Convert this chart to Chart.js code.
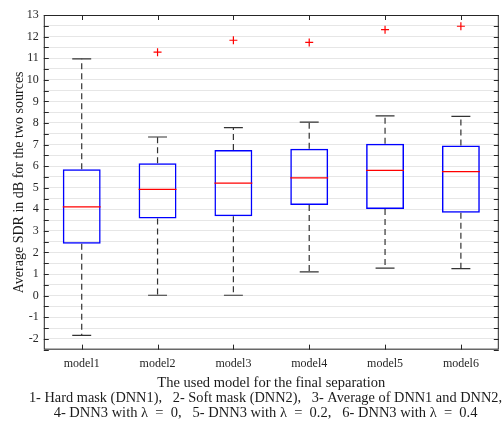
<!DOCTYPE html>
<html>
<head>
<meta charset="utf-8">
<script src="https://cdn.jsdelivr.net/npm/chart.js@4"></script>
<style>
  html, body { margin: 0; padding: 0; background: #fff; }
  #wrap { width: 504px; height: 423px; }
</style>
</head>
<body>
<div id="wrap"><canvas id="sdrChart"></canvas></div>
<script>
const models = ['model1', 'model2', 'model3', 'model4', 'model5', 'model6'];
const lowerWhisker = [-1.84, 0.02, 0.02, 1.1, 1.28, 1.25];
const q1 = [2.4, 3.58, 3.68, 4.2, 4.01, 3.84];
const medians = [4.11, 4.92, 5.21, 5.46, 5.8, 5.75];
const q3 = [5.86, 6.13, 6.75, 6.81, 7.04, 6.95];
const upperWhisker = [10.97, 7.35, 7.78, 8.04, 8.33, 8.3];
const outliers = [null, 11.28, 11.83, 11.73, 12.32, 12.48];

const serif = 'Liberation Serif';

// whiskers, medians and the axis frame with inward ticks
const boxExtras = {
    id: 'boxExtras',
    afterDatasetsDraw(chart) {
        const ctx = chart.ctx;
        const x = chart.scales.x;
        const y = chart.scales.y;
        const area = chart.chartArea;
        const boxMeta = chart.getDatasetMeta(0);

        ctx.save();
        models.forEach(function (m, i) {
            const cx = x.getPixelForValue(i);
            const boxW = boxMeta.data[i].width;
            const capHalf = boxW / 4;

            // dashed whiskers
            ctx.strokeStyle = '#333';
            ctx.lineWidth = 1.2;
            ctx.setLineDash([6, 4]);
            ctx.beginPath();
            ctx.moveTo(cx, y.getPixelForValue(q3[i]));
            ctx.lineTo(cx, y.getPixelForValue(upperWhisker[i]));
            ctx.moveTo(cx, y.getPixelForValue(q1[i]));
            ctx.lineTo(cx, y.getPixelForValue(lowerWhisker[i]));
            ctx.stroke();

            // caps
            ctx.setLineDash([]);
            ctx.beginPath();
            ctx.moveTo(cx - capHalf, y.getPixelForValue(upperWhisker[i]));
            ctx.lineTo(cx + capHalf, y.getPixelForValue(upperWhisker[i]));
            ctx.moveTo(cx - capHalf, y.getPixelForValue(lowerWhisker[i]));
            ctx.lineTo(cx + capHalf, y.getPixelForValue(lowerWhisker[i]));
            ctx.stroke();

            // median
            ctx.strokeStyle = '#ff0000';
            ctx.lineWidth = 1.3;
            ctx.beginPath();
            ctx.moveTo(cx - boxW / 2, y.getPixelForValue(medians[i]));
            ctx.lineTo(cx + boxW / 2, y.getPixelForValue(medians[i]));
            ctx.stroke();
        });

        // frame
        ctx.strokeStyle = '#262626';
        ctx.lineWidth = 1;
        ctx.strokeRect(area.left + 0.5, area.top + 0.5, area.right - area.left - 1, area.bottom - area.top - 1);

        // inward ticks
        const tl = 5;
        ctx.beginPath();
        y.ticks.forEach(function (t) {
            const py = Math.round(y.getPixelForValue(t.value)) + 0.5;
            ctx.moveTo(area.left, py);
            ctx.lineTo(area.left + tl, py);
            ctx.moveTo(area.right, py);
            ctx.lineTo(area.right - tl, py);
        });
        models.forEach(function (m, i) {
            const px = Math.round(x.getPixelForValue(i)) + 0.5;
            ctx.moveTo(px, area.bottom);
            ctx.lineTo(px, area.bottom - tl);
            ctx.moveTo(px, area.top);
            ctx.lineTo(px, area.top + tl);
        });
        ctx.stroke();
        ctx.restore();
    }
};

new Chart(document.getElementById('sdrChart'), {
    type: 'bar',
    data: {
        labels: models,
        datasets: [{
            label: 'box',
            data: models.map(function (m, i) { return [q1[i], q3[i]]; }),
            backgroundColor: 'rgba(0,0,0,0)',
            borderColor: '#0000ff',
            borderWidth: 1.5,
            borderSkipped: false,
            barPercentage: 0.5,
            categoryPercentage: 1
        }, {
            type: 'line',
            label: 'outliers',
            data: outliers,
            showLine: false,
            pointStyle: 'cross',
            pointRadius: 4,
            pointBorderWidth: 1.2,
            borderColor: '#ff0000',
            pointBorderColor: '#ff0000'
        }]
    },
    options: {
        responsive: true,
        maintainAspectRatio: false,
        animation: false,
        layout: { padding: { top: 15, right: 2, left: 11, bottom: 2 } },
        scales: {
            x: {
                grid: { display: false, drawTicks: false },
                border: { display: false },
                ticks: { color: '#262626', padding: 7, font: { family: serif, size: 12 } },
                title: {
                    display: true,
                    text: 'The used model for the final separation',
                    color: '#1a1a1a',
                    padding: { top: -2, bottom: 0 },
                    font: { family: serif, size: 14.5, lineHeight: 1.0 }
                }
            },
            y: {
                min: -2.5,
                max: 13,
                grid: { color: '#e6e6e6', drawTicks: false, lineWidth: 1 },
                border: { display: false },
                ticks: {
                    stepSize: 0.5,
                    autoSkip: false,
                    color: '#262626',
                    padding: 5,
                    font: { family: serif, size: 12 },
                    callback: function (v) { return Number.isInteger(v) ? String(v) : ''; }
                },
                title: {
                    display: true,
                    text: 'Average SDR in dB for the two sources',
                    color: '#1a1a1a',
                    padding: { top: 0, bottom: -6 },
                    font: { family: serif, size: 14 }
                }
            }
        },
        plugins: {
            legend: { display: false },
            tooltip: { enabled: false },
            title: {
                display: true,
                position: 'bottom',
                text: [
                    '     1- Hard mask (DNN1),   2- Soft mask (DNN2),   3- Average of DNN1 and DNN2,',
                    '     4- DNN3 with \u03bb  =  0,   5- DNN3 with \u03bb  =  0.2,   6- DNN3 with \u03bb  =  0.4'
                ],
                color: '#1a1a1a',
                padding: { top: 0, bottom: 0 },
                font: { family: serif, size: 14.5, weight: 'normal', lineHeight: 1.05 }
            }
        }
    },
    plugins: [boxExtras]
});
</script>
</body>
</html>
